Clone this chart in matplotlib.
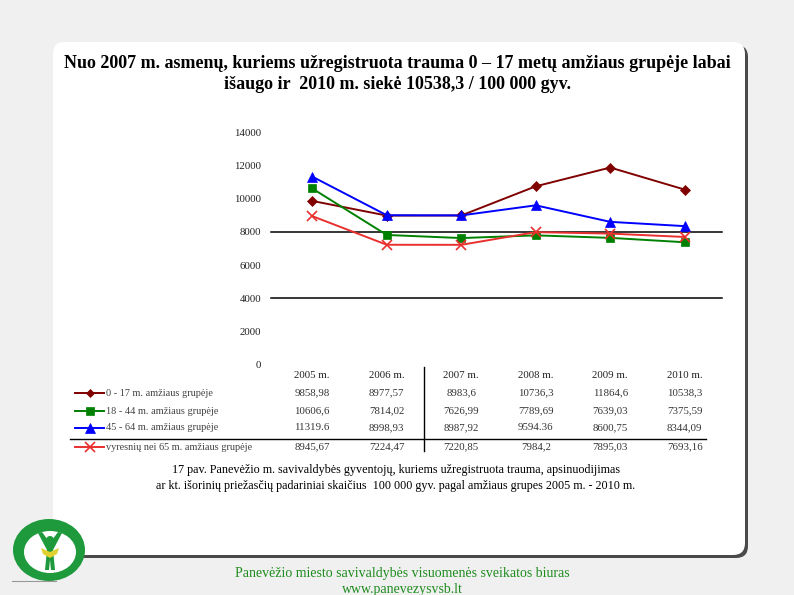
import matplotlib
matplotlib.use("Agg")
import matplotlib.pyplot as plt
from matplotlib.patches import FancyBboxPatch, Circle, Ellipse, Polygon
from matplotlib.lines import Line2D

W, H = 794, 595

years = ["2005 m.", "2006 m.", "2007 m.", "2008 m.", "2009 m.", "2010 m."]
series_names = ["0 - 17 m. amžiaus grupėje", "18 - 44 m. amžiaus grupėje",
                "45 - 64 m. amžiaus grupėje", "vyresnių nei 65 m. amžiaus grupėje"]
v_0_17 = [9858.98, 8977.57, 8983.6, 10736.3, 11864.6, 10538.3]
v_18_44 = [10606.6, 7814.02, 7626.99, 7789.69, 7639.03, 7375.59]
v_45_64 = [11319.6, 8998.93, 8987.92, 9594.36, 8600.75, 8344.09]
v_65 = [8945.67, 7224.47, 7220.85, 7984.2, 7895.03, 7693.16]
table_text = [
    ["9858,98", "8977,57", "8983,6", "10736,3", "11864,6", "10538,3"],
    ["10606,6", "7814,02", "7626,99", "7789,69", "7639,03", "7375,59"],
    ["11319.6", "8998,93", "8987,92", "9594.36", "8600,75", "8344,09"],
    ["8945,67", "7224,47", "7220,85", "7984,2", "7895,03", "7693,16"],
]
y_ticks = [0, 2000, 4000, 6000, 8000, 10000, 12000, 14000]

colors = ["#800000", "#008000", "#0000ff", "#e8302e"]
markers = ["D", "s", "^", "x"]
msizes = [5, 6, 7, 7]

serif = ["Liberation Serif", "DejaVu Serif"]

fig = plt.figure(figsize=(W / 100, H / 100), dpi=100)
fig.patch.set_facecolor("#f0f0f0")

def fx(x):
    return x / W

def fy(y):
    return 1 - y / H

# background panel with shadow
bg = fig.add_axes([0, 0, 1, 1])
bg.set_xlim(0, W)
bg.set_ylim(H, 0)
bg.axis("off")
bg.add_patch(FancyBboxPatch((56, 45), 692, 513, boxstyle="round,pad=0,rounding_size=12",
                            fc="#4a4a4a", ec="none"))
bg.add_patch(FancyBboxPatch((53, 42), 692, 513, boxstyle="round,pad=0,rounding_size=12",
                            fc="white", ec="none"))

# title
fig.text(fx(397), fy(63), "Nuo 2007 m. asmenų, kuriems užregistruota trauma 0 – 17 metų amžiaus grupėje labai",
         ha="center", va="center", family=serif, weight="bold", fontsize=13)
fig.text(fx(397), fy(85), "išaugo ir  2010 m. siekė 10538,3 / 100 000 gyv.",
         ha="center", va="center", family=serif, weight="bold", fontsize=13)

# chart
ax = fig.add_axes([fx(275), fy(365), fx(447), 233 / H])
ax.set_xlim(-0.5, 5.5)
ax.set_ylim(0, 14000)
for s in ax.spines.values():
    s.set_visible(False)
ax.set_xticks([])
ax.set_yticks(y_ticks)
ax.set_yticklabels([str(t) for t in y_ticks], family=serif, fontsize=7.8, color="#222222")
ax.tick_params(axis="y", length=0, pad=10)
ax.patch.set_alpha(0)
for yv in (8000, 4000):
    ax.axhline(yv, color="black", lw=1.1, xmin=-0.01, xmax=1.0, clip_on=False, zorder=1)

data = [v_0_17, v_18_44, v_45_64, v_65]
xs = list(range(len(years)))
for vals, c, m, ms in zip(data, colors, markers, msizes):
    ax.plot(xs, vals, color=c, marker=m, markersize=ms, lw=1.4,
            markeredgewidth=1.2 if m == "x" else 0.5, zorder=3)

# table
col_x = [312.25 + i * 74.5 for i in range(6)]
for x, yl in zip(col_x, years):
    fig.text(fx(x), fy(375), yl, ha="center", va="center", family=serif, fontsize=7.8, color="#222222")
row_y = [393, 411, 428, 447]
for r, (name, c, m, ms) in enumerate(zip(series_names, colors, markers, msizes)):
    y = row_y[r]
    fig.add_artist(Line2D([fx(75), fx(104)], [fy(y), fy(y)], color=c, lw=1.4,
                          transform=fig.transFigure))
    fig.add_artist(Line2D([fx(90)], [fy(y)], color=c, marker=m, markersize=ms - 0.5,
                          markeredgewidth=1.2 if m == "x" else 0.5, transform=fig.transFigure))
    fig.text(fx(106), fy(y), name, ha="left", va="center", family=serif, fontsize=7.4, color="#444444")
    for x, t in zip(col_x, table_text[r]):
        fig.text(fx(x), fy(y), t, ha="center", va="center", family=serif, fontsize=7.8, color="#333333")
fig.add_artist(Line2D([fx(70), fx(706)], [fy(439), fy(439)], color="black", lw=1.0,
                      transform=fig.transFigure))
fig.add_artist(Line2D([fx(424), fx(424)], [fy(367), fy(451)], color="black", lw=1.0,
                      transform=fig.transFigure))

# caption
fig.text(fx(396), fy(470), "17 pav. Panevėžio m. savivaldybės gyventojų, kuriems užregistruota trauma, apsinuodijimas",
         ha="center", va="center", family=serif, fontsize=8.7)
fig.text(fx(396), fy(486), "ar kt. išorinių priežasčių padariniai skaičius  100 000 gyv. pagal amžiaus grupes 2005 m. - 2010 m.",
         ha="center", va="center", family=serif, fontsize=8.7)

# logo
green = "#1e9a3c"
bg.add_patch(Ellipse((49, 550), 72, 62, fc=green, ec="none"))
bg.add_patch(Ellipse((50, 552), 52, 42, fc="white", ec="none"))
bg.add_patch(Circle((50, 540), 4, fc=green, ec="none"))
bg.add_patch(Polygon([(38, 533), (42, 532), (50, 543), (58, 532), (62, 533), (53, 550),
                      (55, 570), (51, 570), (50, 560), (49, 570), (45, 570), (47, 550)],
                     closed=True, fc=green, ec="none"))
bg.add_patch(Polygon([(41, 548), (50, 552), (59, 548), (57, 554), (50, 558), (43, 554)],
                     closed=True, fc="#e0d030", ec="none"))
bg.plot([12, 56], [581, 581], color="#999999", lw=0.8)

# footer
fig.text(fx(402), fy(573), "Panevėžio miesto savivaldybės visuomenės sveikatos biuras",
         ha="center", va="center", family=serif, fontsize=10, color="#1e8c1e")
fig.text(fx(402), fy(589), "www.panevezysvsb.lt",
         ha="center", va="center", family=serif, fontsize=10, color="#1e8c1e")

fig.savefig("out.png", dpi=100, facecolor=fig.get_facecolor())
